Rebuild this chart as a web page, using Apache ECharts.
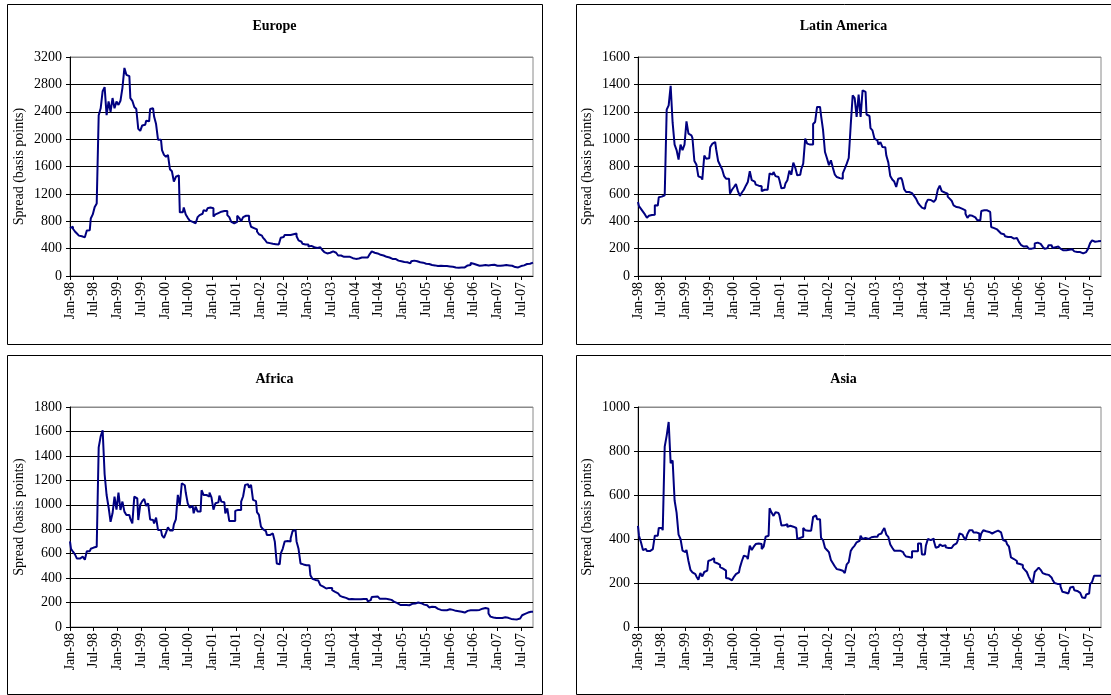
<!DOCTYPE html>
<html><head><meta charset="utf-8">
<script src="https://cdn.jsdelivr.net/npm/echarts@6/dist/echarts.min.js"></script>
<style>html,body{margin:0;padding:0;background:#fff}#c{width:1111px;height:695px}</style>
</head><body><div id="c"></div>
<script>
// Tick labels shown every 6 months
const xTickLabels = ['Jan-98','Jul-98','Jan-99','Jul-99','Jan-00','Jul-00','Jan-01','Jul-01','Jan-02','Jul-02',
  'Jan-03','Jul-03','Jan-04','Jul-04','Jan-05','Jul-05','Jan-06','Jul-06','Jan-07','Jul-07'];

// Half-month periods, Jan-98 .. Oct-07 (235 periods)
const categories = [];
for (let i = 0; i < 235; i++) {
  const y = 1998 + Math.floor(i / 24);
  const m = Math.floor((i % 24) / 2) + 1;
  categories.push(y + '-' + String(m).padStart(2, '0') + (i % 2 ? 'b' : 'a'));
}

// Spreads (basis points), one value per half month, each row = 6 months
const europe = [
  700,720,690,650,620,590,580,565,560,665,670,840,
  900,1010,1060,2350,2450,2700,2760,2350,2550,2400,2600,2450,
  2550,2500,2560,2750,3040,2940,2920,2600,2560,2470,2440,2150,
  2120,2200,2210,2270,2260,2440,2450,2330,2220,1990,1990,1840,
  1770,1740,1770,1560,1530,1380,1450,1470,930,930,1000,900,
  850,810,790,770,780,860,890,910,960,950,990,1000,
  990,870,900,920,940,960,950,950,890,860,790,770,
  790,880,850,800,860,880,880,820,720,700,680,650,
  610,590,560,530,490,480,470,470,465,460,470,560,
  570,600,600,600,610,610,620,580,520,500,470,460,
  460,430,440,420,400,410,420,400,380,350,330,340,
  350,360,340,320,300,300,280,270,280,280,270,260,
  250,240,255,270,270,270,270,270,320,360,340,330,
  320,310,300,290,280,270,260,250,250,230,225,215,
  210,205,200,195,185,215,225,215,205,200,195,190,
  180,175,165,160,155,145,145,150,145,145,145,145,
  140,135,135,125,122,122,125,125,150,155,160,190,
  180,165,155,150,155,160,160,155,155,160,165,155,
  150,150,150,155,160,155,155,150,140,130,125,130,
  145,155,165,175,180,190,195
];
const latinAmerica = [
  540,510,490,470,450,425,440,445,448,516,515,575,
  580,590,600,1215,1247,1390,1120,960,920,850,960,920,
  960,1130,1040,1028,1010,840,815,728,720,704,880,857,
  860,940,965,979,926,840,809,780,730,711,711,602,
  630,650,672,620,585,610,630,660,687,765,700,690,
  668,660,655,620,630,630,625,750,740,760,730,723,
  700,640,645,675,700,770,740,828,790,735,740,780,
  821,1004,967,960,960,1110,1125,1235,1235,1174,1070,906,
  860,810,845,790,740,723,715,711,750,784,821,862,
  1100,1320,1300,1162,1325,1162,1357,1345,1180,1169,1080,1064,
  1004,990,960,979,943,940,880,830,730,705,690,650,
  711,716,700,635,614,614,605,600,585,565,535,516,
  500,490,530,558,555,541,535,560,630,660,620,610,
  602,580,565,550,516,504,500,504,490,480,455,425,
  443,440,428,415,407,407,475,480,480,478,468,358,
  350,340,334,325,310,305,290,285,285,280,273,278,
  270,249,228,215,218,215,200,200,205,238,244,235,
  228,215,198,205,225,225,205,210,215,224,200,188,
  188,190,192,195,190,180,175,175,163,165,175,175,
  200,240,260,250,253,255,255
];
const africa = [
  700,640,616,594,560,560,575,565,550,620,620,640,
  650,657,665,1470,1560,1610,1250,1080,980,860,930,1067,
  960,1100,958,1026,944,917,917,884,848,1067,1053,875,
  1000,1030,1048,990,1012,880,875,848,895,793,793,750,
  730,770,815,790,790,840,880,1081,999,1176,1160,1100,
  1012,977,990,930,985,944,944,1119,1080,1080,1067,1100,
  1060,960,1012,1020,1075,1026,1020,930,971,867,867,867,
  950,958,958,1026,1070,1163,1168,1140,1163,1040,1030,940,
  917,821,800,785,752,752,766,780,700,520,512,600,
  640,700,703,700,725,785,793,700,640,520,512,505,
  505,506,424,395,385,380,365,342,330,315,318,320,
  320,301,287,275,265,255,245,238,232,227,230,228,
  227,227,227,227,230,238,230,210,220,246,248,250,
  246,232,232,232,227,227,222,210,205,195,192,180,
  180,190,180,178,172,190,192,195,200,195,190,183,
  178,170,160,165,164,155,148,140,137,137,137,140,
  145,140,137,132,129,129,125,118,125,132,137,137,
  137,137,137,140,150,155,156,150,110,85,78,74,
  74,74,74,78,80,75,70,66,63,55,62,70,
  78,96,108,118,129,125,125
];
const asia = [
  460,415,385,350,355,345,345,354,362,415,415,450,
  450,440,820,870,932,745,757,575,520,420,400,347,
  340,350,300,260,248,240,230,215,245,230,250,256,
  300,305,313,295,290,282,272,265,256,223,220,212,
  215,228,240,248,270,300,324,320,309,370,350,365,
  377,380,377,354,365,410,415,540,520,505,522,518,
  507,461,462,468,455,460,456,455,450,400,405,410,
  450,440,438,438,440,500,507,490,490,405,395,360,
  350,340,305,290,275,263,260,256,250,245,285,295,
  345,360,370,385,392,415,400,405,400,405,408,410,
  410,410,420,425,435,450,420,410,375,360,347,347,
  347,345,340,330,320,318,315,344,344,344,380,380,
  330,330,370,400,395,402,392,360,365,375,368,372,
  362,359,359,360,372,380,390,425,420,410,395,423,
  440,440,430,430,425,390,425,440,435,432,435,425,
  432,432,438,430,432,395,390,377,365,316,309,300,
  290,286,282,270,260,250,228,210,200,250,260,270,
  260,245,240,237,228,225,215,200,196,195,185,160,
  157,152,160,180,183,167,164,155,148,134,132,148,
  152,195,205,233,233,233,233
];

const panels = [
  { name: 'Europe',        data: europe,       max: 3200, interval: 400, grid: [70, 57, 463, 219],  box: [7, 4, 535, 340],   titleY: 26 },
  { name: 'Latin America', data: latinAmerica, max: 1600, interval: 200, grid: [638, 57, 463, 219], box: [576, 4, 540, 340], titleY: 26 },
  { name: 'Africa',        data: africa,       max: 1800, interval: 200, grid: [70, 407, 463, 220], box: [7, 355, 535, 339], titleY: 379 },
  { name: 'Asia',          data: asia,         max: 1000, interval: 200, grid: [638, 407, 463, 220],box: [576, 355, 540, 339], titleY: 379 }
];

const FONT = 'Liberation Serif, Times New Roman, serif';
const showTick = (i) => i % 12 === 0;

const option = {
  animation: false,
  backgroundColor: '#fff',
  grid: [], xAxis: [], yAxis: [], series: [], graphic: []
};

panels.forEach((p, k) => {
  option.grid.push({ left: p.grid[0], top: p.grid[1], width: p.grid[2], height: p.grid[3],
    show: true, borderColor: '#8a8a8a', borderWidth: 1, containLabel: false });
  option.xAxis.push({
    type: 'category', gridIndex: k, data: categories, boundaryGap: false,
    axisLine: { show: true, lineStyle: { color: '#000', width: 1 } },
    axisTick: { show: true, interval: (i) => showTick(i), length: 4, lineStyle: { color: '#000' } },
    axisLabel: { interval: (i) => showTick(i), rotate: 90, margin: 6,
      formatter: (v, i) => xTickLabels[i / 12] || '',
      fontFamily: FONT, fontSize: 14, color: '#000' },
    splitLine: { show: false }
  });
  const nTicks = p.max / p.interval + 1;
  const lineColors = [];
  for (let i = 0; i < nTicks; i++) lineColors.push(i === nTicks - 1 ? '#8a8a8a' : '#000');
  option.yAxis.push({
    type: 'value', gridIndex: k, min: 0, max: p.max, interval: p.interval,
    name: 'Spread (basis points)', nameLocation: 'middle', nameGap: 44, nameRotate: 90,
    nameTextStyle: { fontFamily: FONT, fontSize: 14, color: '#000' },
    axisLine: { show: true, lineStyle: { color: '#000', width: 1 } },
    axisTick: { show: true, length: 4, lineStyle: { color: '#000' } },
    axisLabel: { margin: 8, fontFamily: FONT, fontSize: 14, color: '#000', formatter: (v) => String(v) },
    splitLine: { show: true, lineStyle: { color: lineColors, width: 1 } }
  });
  option.series.push({
    type: 'line', name: p.name, xAxisIndex: k, yAxisIndex: k, data: p.data,
    step: 'middle', symbol: 'none', showSymbol: false,
    lineStyle: { color: '#000080', width: 2 }, z: 5
  });
  option.graphic.push({
    type: 'rect', silent: true,
    shape: { x: p.box[0] + 0.5, y: p.box[1] + 0.5, width: p.box[2], height: p.box[3] },
    style: { fill: 'none', stroke: '#000', lineWidth: 1 }
  });
  option.graphic.push({
    type: 'text', silent: true,
    x: p.box[0] + Math.min(p.box[2], 1111 - p.box[0]) / 2, y: p.titleY,
    style: { text: p.name, fill: '#000', font: 'bold 14px ' + FONT, textAlign: 'center', textVerticalAlign: 'middle' }
  });
});

const chart = echarts.init(document.getElementById('c'), null, { renderer: 'canvas' });
chart.setOption(option);
</script>
</body></html>
